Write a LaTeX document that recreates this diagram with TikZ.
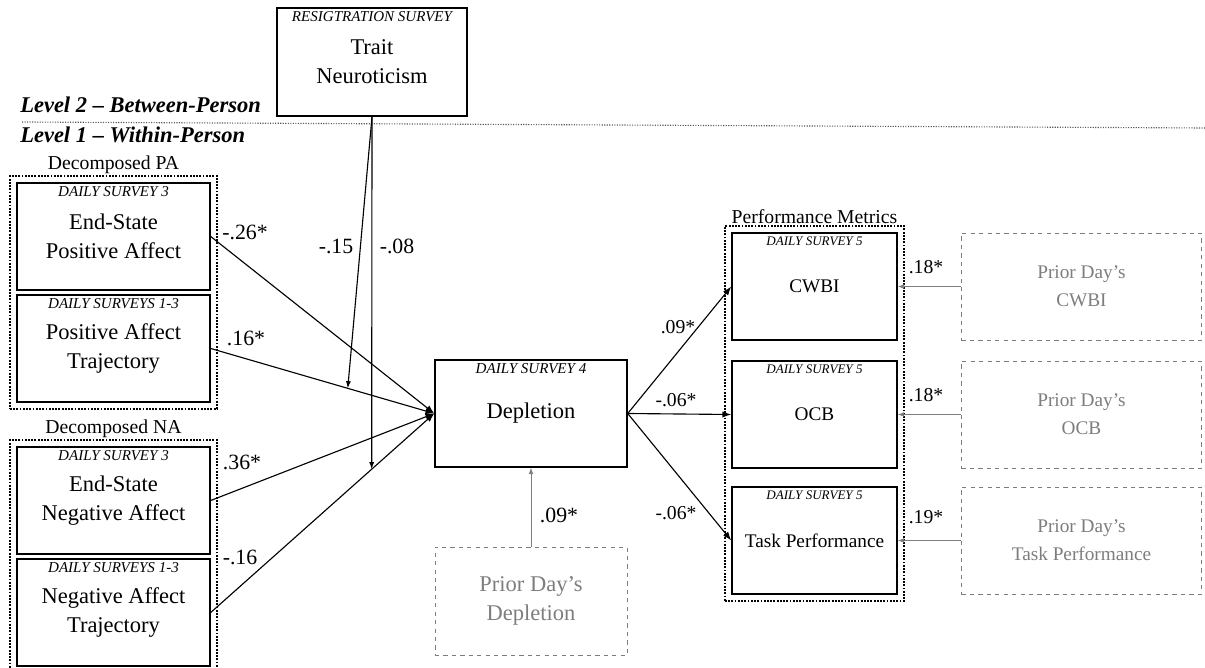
\documentclass[tikz,border=0pt]{standalone}
\usepackage{fontspec}
\setmainfont{Liberation Serif}
\usetikzlibrary{shapes,arrows.meta,positioning,fit,backgrounds,calc}
\definecolor{priorgray}{RGB}{125,125,125}

\begin{document}
\begin{tikzpicture}[
    x=0.025cm, y=-0.025cm,
    var/.style={rectangle, draw, line width=1pt, minimum width=4.825cm, minimum height=2.675cm, inner sep=0pt, align=center, font=\fontsize{16}{20.5}\selectfont},
    outcome/.style={var, minimum width=4.125cm, font=\fontsize{13.7}{20}\selectfont},
    survey/.style={label={[anchor=north, inner sep=3pt, font=\fontsize{10.7}{12}\selectfont\itshape]north:#1}},
    smallsurvey/.style={label={[anchor=north, inner sep=3pt, font=\fontsize{9.3}{11}\selectfont\itshape]north:#1}},
    prior/.style={var, draw=priorgray, dashed, line width=0.6pt, text=priorgray},
    priorright/.style={prior, minimum width=6cm, font=\fontsize{13.7}{20}\selectfont},
    group/.style={rectangle, draw, densely dotted, line width=1.3pt, inner sep=4.5pt},
    grouptitle/.style={font=\fontsize{14}{16}\selectfont, inner sep=1pt},
    coef/.style={font=\fontsize{15.5}{17}\selectfont, inner sep=0pt},
    coefright/.style={font=\fontsize{14}{16}\selectfont, inner sep=0pt},
    effect/.style={-{Latex[length=2.2mm,width=1.6mm]}, line width=0.8pt},
    priorpath/.style={-{Latex[length=1.6mm,width=1.2mm]}, priorgray, line width=0.6pt},
    leveltext/.style={font=\fontsize{16}{18}\selectfont\bfseries\itshape, anchor=base west, inner sep=0pt}
]
    \useasboundingbox (0,0) rectangle (1205,668);

    % levels
    \node[leveltext] (lvtwo) at (20,113) {Level 2 -- Between-Person};
    \node[leveltext] (lvone) at (20,143) {Level 1 -- Within-Person};
    \coordinate (divL) at (22,122);
    \coordinate (divR) at (1205,128);
    \draw[densely dotted, gray!70!black, line width=0.8pt] (divL) -- (divR);

    % between-person moderator
    \node[var, minimum width=4.75cm, minimum height=2.7cm, survey=RESIGTRATION SURVEY] (trait) at (372,62) {Trait\\Neuroticism};

    % decomposed affect
    \node[var, survey=DAILY SURVEY 3] (espa) at (113.5,236.5) {End-State\\Positive Affect};
    \node[var, survey=DAILY SURVEYS 1-3] (trpa) at (113.5,348.5) {Positive Affect\\Trajectory};
    \node[var, survey=DAILY SURVEY 3] (esna) at (113.5,500.5) {End-State\\Negative Affect};
    \node[var, survey=DAILY SURVEYS 1-3] (trna) at (113.5,612.5) {Negative Affect\\Trajectory};
    \node[group, fit=(espa)(trpa), label={[grouptitle]above:Decomposed PA}] (pagroup) {};
    \node[group, fit=(esna)(trna), label={[grouptitle]above:Decomposed NA}] (nagroup) {};

    % depletion
    \node[var, minimum width=4.8cm, survey=DAILY SURVEY 4] (depl) at (531,413.5) {Depletion};
    \node[prior, minimum width=4.8cm, minimum height=2.7cm] (priordepl) at (531,601) {Prior Day's\\Depletion};

    % performance metrics
    \node[outcome, smallsurvey=DAILY SURVEY 5] (cwbi) at (814.5,286.5) {CWBI};
    \node[outcome, smallsurvey=DAILY SURVEY 5] (ocb) at (814.5,414.5) {OCB};
    \node[outcome, smallsurvey=DAILY SURVEY 5] (task) at (814.5,540.5) {Task Performance};
    \node[group, fit=(cwbi)(task), label={[grouptitle]above:Performance Metrics}] (perfgroup) {};

    \node[priorright] (priorcwbi) at (1081.5,286.5) {Prior Day's\\CWBI};
    \node[priorright] (priorocb) at (1081.5,414.5) {Prior Day's\\OCB};
    \node[priorright] (priortask) at (1081.5,540.5) {Prior Day's\\Task Performance};

    % paths into depletion
    \draw[effect] (espa.east) -- (depl.west);
    \draw[effect] (trpa.east) -- (depl.west);
    \draw[effect] (esna.east) -- (depl.west);
    \draw[effect] (trna.east) -- (depl.west);
    \draw[priorpath] (priordepl.north) -- (depl.south);

    % cross-level moderation
    \coordinate (modpa) at ($(trpa.east)!0.613!(depl.west)$);
    \coordinate (modna) at ($(trna.east)!0.72!(depl.west)$);
    \draw[effect, -{Latex[length=1.8mm,width=1.3mm]}] (trait.south) -- (modpa);
    \draw[effect, -{Latex[length=1.8mm,width=1.3mm]}] (trait.south) -- (modna);

    % paths out of depletion
    \draw[effect] (depl.east) -- (cwbi.west);
    \draw[effect] (depl.east) -- (ocb.west);
    \draw[effect] (depl.east) -- (task.west);
    \draw[priorpath] (priorcwbi.west) -- (cwbi.east);
    \draw[priorpath] (priorocb.west) -- (ocb.east);
    \draw[priorpath] (priortask.west) -- (task.east);

    % coefficients
    \node[coef] (cespa) at (245,232) {-.26*};
    \node[coef] (ctrpa) at (246,338) {.16*};
    \node[coef] (cesna) at (242,462) {.36*};
    \node[coef] (ctrna) at (240,557) {-.16};
    \node[coef] (cmodpa) at (336,246) {-.15};
    \node[coef] (cmodna) at (397,246) {-.08};
    \node[coef] (cpriordepl) at (559,515) {.09*};
    \node[coefright] (ccwbi) at (678,327) {.09*};
    \node[coefright] (cocb) at (676,400) {-.06*};
    \node[coefright] (ctask) at (676,513) {-.06*};
    \node[coefright] (cpriorcwbi) at (926,267) {.18*};
    \node[coefright] (cpriorocb) at (926,395) {.18*};
    \node[coefright] (cpriortask) at (926,517) {.19*};
\end{tikzpicture}
\end{document}
